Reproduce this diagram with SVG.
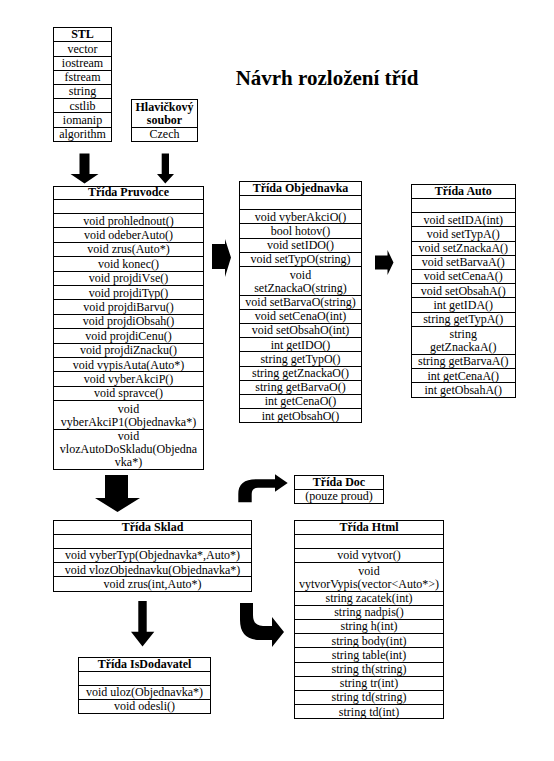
<svg xmlns="http://www.w3.org/2000/svg" width="554" height="761" viewBox="0 0 554 761">
<style>
.bx{fill:#fff;stroke:#000;stroke-width:1;shape-rendering:crispEdges}
.ln{stroke:#000;stroke-width:1;shape-rendering:crispEdges}
text{font-family:"Liberation Serif","Times New Roman",serif;font-size:12px;fill:#000;text-anchor:middle}
.b{font-weight:bold}
.title{font-size:21px;font-weight:bold}
.ar{fill:#000;stroke:none}
</style>
<rect width="554" height="761" fill="#fff"/>
<text class="title" x="327" y="85">Návrh rozložení tříd</text>

<g id="stl">
<rect class="bx" x="53.5" y="27.5" width="58" height="113.7"/>
<path class="ln" d="M53.5 41.7H111.5M53.5 56H111.5M53.5 70.2H111.5M53.5 84.4H111.5M53.5 98.6H111.5M53.5 112.8H111.5M53.5 127H111.5"/>
<text class="b" x="82.5" y="38.4">STL</text>
<text x="82.5" y="52.7">vector</text>
<text x="82.5" y="66.9">iostream</text>
<text x="82.5" y="81.1">fstream</text>
<text x="82.5" y="95.3">string</text>
<text x="82.5" y="109.5">cstlib</text>
<text x="82.5" y="123.7">iomanip</text>
<text x="82.5" y="137.9">algorithm</text>
</g>

<g id="hlavicka">
<rect class="bx" x="131.5" y="99.5" width="66" height="41.7"/>
<path class="ln" d="M131.5 127H197.5"/>
<text class="b" x="164.5" y="110.5">Hlavičkový</text>
<text class="b" x="164.5" y="123.5">soubor</text>
<text x="164.5" y="138">Czech</text>
</g>

<g id="pruvodce">
<rect class="bx" x="53.5" y="186" width="150" height="283"/>
<path class="ln" d="M53.5 199.5H203.5M53.5 213.5H203.5M53.5 227.9H203.5M53.5 242.3H203.5M53.5 256.7H203.5M53.5 271.1H203.5M53.5 285.5H203.5M53.5 299.9H203.5M53.5 314.3H203.5M53.5 328.7H203.5M53.5 343.1H203.5M53.5 357.5H203.5M53.5 371.9H203.5M53.5 386.3H203.5M53.5 400.7H203.5M53.5 429.5H203.5"/>
<text class="b" x="128.5" y="196.3">Třída Pruvodce</text>
<text x="128.5" y="224.6">void prohlednout()</text>
<text x="128.5" y="239">void odeberAuto()</text>
<text x="128.5" y="253.4">void zrus(Auto*)</text>
<text x="128.5" y="267.8">void konec()</text>
<text x="128.5" y="282.2">void projdiVse()</text>
<text x="128.5" y="296.6">void projdiTyp()</text>
<text x="128.5" y="311">void projdiBarvu()</text>
<text x="128.5" y="325.4">void projdiObsah()</text>
<text x="128.5" y="339.8">void projdiCenu()</text>
<text x="128.5" y="354.2">void projdiZnacku()</text>
<text x="128.5" y="368.6">void vypisAuta(Auto*)</text>
<text x="128.5" y="383">void vyberAkciP()</text>
<text x="128.5" y="397.4">void spravce()</text>
<text x="128.5" y="412.5">void</text>
<text x="128.5" y="425.5">vyberAkciP1(Objednavka*)</text>
<text x="128.5" y="439.5">void</text>
<text x="128.5" y="452.8">vlozAutoDoSkladu(Objedna</text>
<text x="128.5" y="466">vka*)</text>
</g>

<g id="objednavka">
<rect class="bx" x="239.5" y="181.5" width="122" height="241.3"/>
<path class="ln" d="M239.5 195.5H361.5M239.5 209.7H361.5M239.5 223.9H361.5M239.5 238.1H361.5M239.5 252.3H361.5M239.5 266.5H361.5M239.5 295H361.5M239.5 309.2H361.5M239.5 323.4H361.5M239.5 337.6H361.5M239.5 351.8H361.5M239.5 366H361.5M239.5 380.2H361.5M239.5 394.4H361.5M239.5 408.6H361.5"/>
<text class="b" x="300.5" y="192.3">Třída Objednavka</text>
<text x="300.5" y="220.6">void vyberAkciO()</text>
<text x="300.5" y="234.8">bool hotov()</text>
<text x="300.5" y="249">void setIDO()</text>
<text x="300.5" y="263.2">void setTypO(string)</text>
<text x="300.5" y="278.5">void</text>
<text x="300.5" y="291.5">setZnackaO(string)</text>
<text x="300.5" y="306">void setBarvaO(string)</text>
<text x="300.5" y="320.1">void setCenaO(int)</text>
<text x="300.5" y="334.3">void setObsahO(int)</text>
<text x="300.5" y="348.5">int getIDO()</text>
<text x="300.5" y="362.7">string getTypO()</text>
<text x="300.5" y="376.9">string getZnackaO()</text>
<text x="300.5" y="391.1">string getBarvaO()</text>
<text x="300.5" y="405.3">int getCenaO()</text>
<text x="300.5" y="419.5">int getObsahO()</text>
</g>

<g id="auto">
<rect class="bx" x="411.5" y="184" width="103.5" height="213.1"/>
<path class="ln" d="M411.5 198.3H515M411.5 212.6H515M411.5 226.8H515M411.5 241H515M411.5 255.2H515M411.5 269.4H515M411.5 283.6H515M411.5 297.8H515M411.5 312H515M411.5 326.2H515M411.5 354.5H515M411.5 368.7H515M411.5 382.9H515"/>
<text class="b" x="463.25" y="195">Třída Auto</text>
<text x="463.25" y="223.5">void setIDA(int)</text>
<text x="463.25" y="237.7">void setTypA()</text>
<text x="463.25" y="251.9">void setZnackaA()</text>
<text x="463.25" y="266.1">void setBarvaA()</text>
<text x="463.25" y="280.3">void setCenaA()</text>
<text x="463.25" y="294.5">void setObsahA()</text>
<text x="463.25" y="308.7">int getIDA()</text>
<text x="463.25" y="322.9">string getTypA()</text>
<text x="463.25" y="338.2">string</text>
<text x="463.25" y="351.2">getZnackaA()</text>
<text x="463.25" y="365.4">string getBarvaA()</text>
<text x="463.25" y="379.6">int getCenaA()</text>
<text x="463.25" y="393.8">int getObsahA()</text>
</g>

<g id="doc">
<rect class="bx" x="294.5" y="475" width="89" height="28"/>
<path class="ln" d="M294.5 489H383.5"/>
<text class="b" x="339" y="485.7">Třída Doc</text>
<text x="339" y="499.7">(pouze proud)</text>
</g>

<g id="sklad">
<rect class="bx" x="53.5" y="520" width="198" height="71"/>
<path class="ln" d="M53.5 534.2H251.5M53.5 548.4H251.5M53.5 562.6H251.5M53.5 576.8H251.5"/>
<text class="b" x="152.5" y="530.9">Třída Sklad</text>
<text x="152.5" y="559.3">void vyberTyp(Objednavka*,Auto*)</text>
<text x="152.5" y="573.5">void vlozObjednavku(Objednavka*)</text>
<text x="152.5" y="587.7">void zrus(int,Auto*)</text>
</g>

<g id="html">
<rect class="bx" x="294.5" y="520" width="149" height="198.8"/>
<path class="ln" d="M294.5 534.2H443.5M294.5 548.4H443.5M294.5 562.6H443.5M294.5 591H443.5M294.5 605.2H443.5M294.5 619.4H443.5M294.5 633.6H443.5M294.5 647.8H443.5M294.5 662H443.5M294.5 676.2H443.5M294.5 690.4H443.5M294.5 704.6H443.5"/>
<text class="b" x="369" y="530.9">Třída Html</text>
<text x="369" y="559.3">void vytvor()</text>
<text x="369" y="574.6">void</text>
<text x="369" y="587.6">vytvorVypis(vector&lt;Auto*&gt;)</text>
<text x="369" y="601.9">string zacatek(int)</text>
<text x="369" y="616.1">string nadpis()</text>
<text x="369" y="630.3">string h(int)</text>
<text x="369" y="644.5">string body(int)</text>
<text x="369" y="658.7">string table(int)</text>
<text x="369" y="672.9">string th(string)</text>
<text x="369" y="687.1">string tr(int)</text>
<text x="369" y="701.3">string td(string)</text>
<text x="369" y="715.5">string td(int)</text>
</g>

<g id="isdodavatel">
<rect class="bx" x="78.5" y="657.5" width="132" height="55.5"/>
<path class="ln" d="M78.5 671H210.5M78.5 685H210.5M78.5 699H210.5"/>
<text class="b" x="144.5" y="668">Třída IsDodavatel</text>
<text x="144.5" y="695.8">void uloz(Objednavka*)</text>
<text x="144.5" y="709.8">void odesli()</text>
</g>

<g id="connectors">
<path class="ar" d="M79.5 153.5H89.5V174H98.5L84.5 183.5L70.5 174H79.5Z"/>
<path class="ar" d="M161.7 153.5H169V174H174L165.3 183.5L157 174H161.7Z"/>
<path class="ar" d="M212 244H225V239L231 257.5L225 277V269H212Z"/>
<path class="ar" d="M375 255.5H387.5V250L393.5 262.5L387.5 275V269.5H375Z"/>
<path class="ar" d="M105 475H128V498H140L117.5 512L95 498H105Z"/>
<path class="ar" d="M138.3 601H146.7V631.7H154.3L142.5 646.5L131 631.7H138.3Z"/>
<path class="ar" d="M238.3 502.3V494Q238.3 479.3 256 479.3H275V474.3L287.7 483L275 491.7V487.7H258Q251.7 487.7 251.7 494V502.3Z"/>
<path class="ar" d="M240 603H253V615Q253 626 263 626H272V617L284 632L272 647V640H260Q240 640 240 620Z"/>
</g>
</svg>
